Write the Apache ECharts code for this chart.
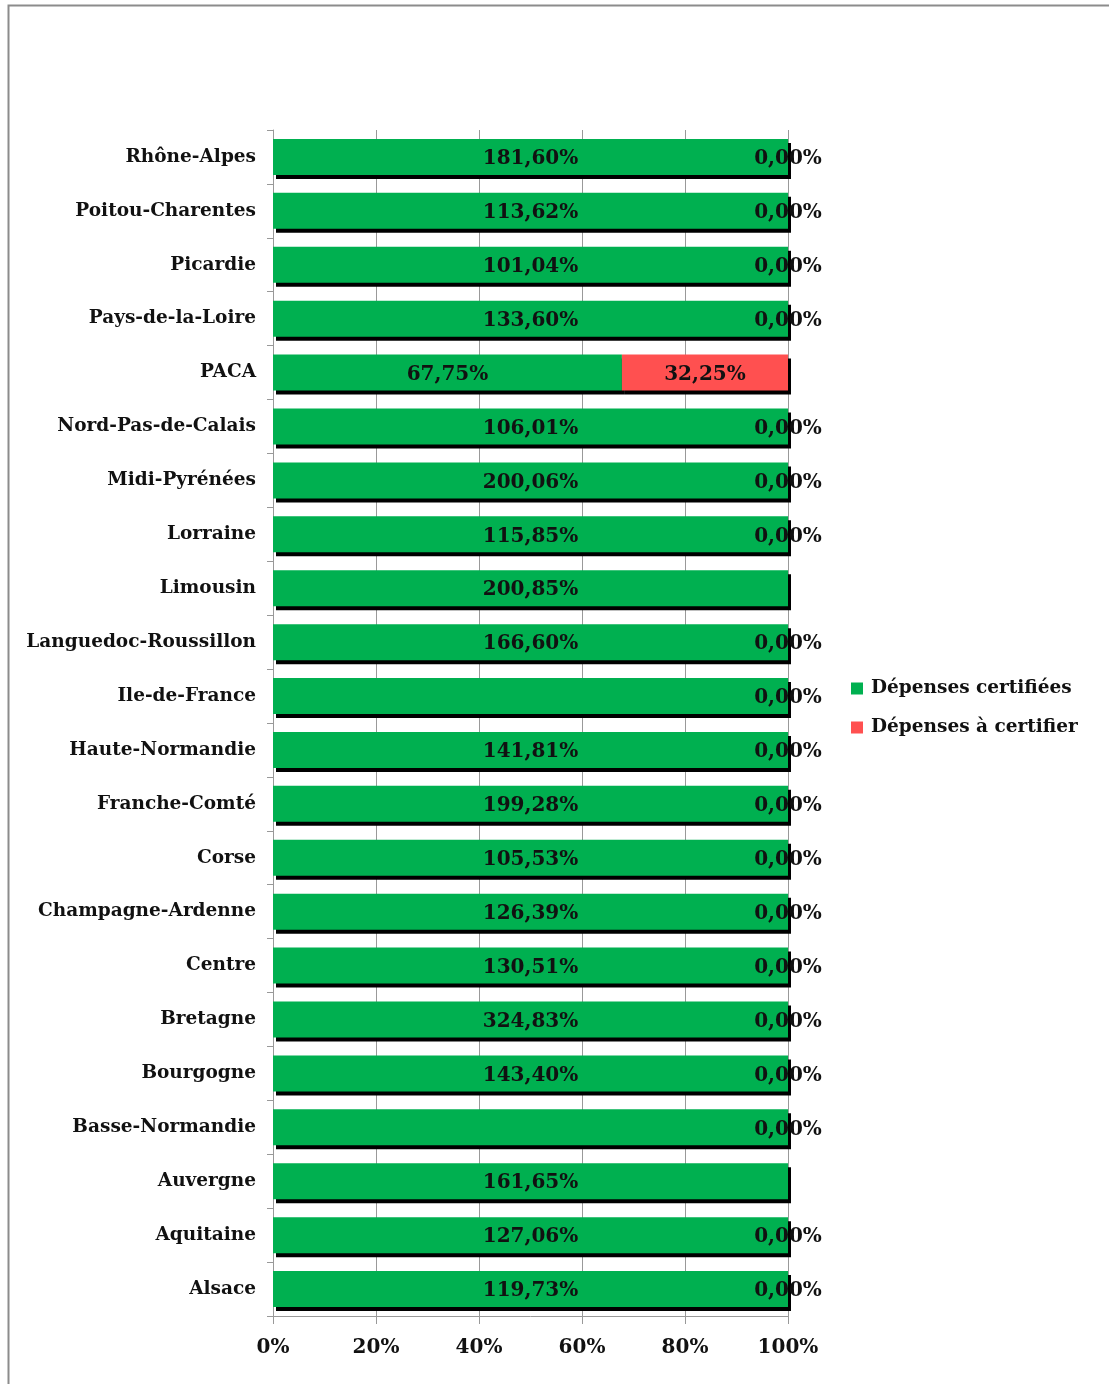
<!DOCTYPE html>
<html>
<head>
<meta charset="utf-8">
<script src="https://cdn.jsdelivr.net/npm/echarts@6/dist/echarts.min.js"></script>
<style>
html,body{margin:0;padding:0;background:#fff;}
#chart{width:1109px;height:1384px;}
</style>
</head>
<body>
<div id="chart"></div>
<script>
// categories listed bottom -> top (ECharts category y axis starts at the bottom)
var regions = ['Alsace','Aquitaine','Auvergne','Basse-Normandie','Bourgogne','Bretagne','Centre',
  'Champagne-Ardenne','Corse','Franche-Comté','Haute-Normandie','Ile-de-France',
  'Languedoc-Roussillon','Limousin','Lorraine','Midi-Pyrénées','Nord-Pas-de-Calais','PACA',
  'Pays-de-la-Loire','Picardie','Poitou-Charentes','Rhône-Alpes'];

// shown percentages (label text); null = no label
var certLabels = [119.73,127.06,161.65,null,143.40,324.83,130.51,126.39,105.53,199.28,141.81,null,
  166.60,200.85,115.85,200.06,106.01,67.75,133.60,101.04,113.62,181.60];
var toCertLabels = [0,0,null,0,0,0,0,0,0,0,0,0,0,null,0,0,0,32.25,0,0,0,0];

// share of each bar (100% stacked)
var certShare = [100,100,100,100,100,100,100,100,100,100,100,100,100,100,100,100,100,67.75,100,100,100,100];
var toCertShare = [0,0,null,0,0,0,0,0,0,0,0,0,0,null,0,0,0,32.25,0,0,0,0];

var xTicks = ['0%','20%','40%','60%','80%','100%'];

var fontFam = '"DejaVu Serif", serif';
function fmt(v){ return v.toFixed(2).replace('.', ',') + '%'; }

var chart = echarts.init(document.getElementById('chart'));
var shadow = {shadowColor:'#000', shadowBlur:0, shadowOffsetX:3, shadowOffsetY:4};

chart.setOption({
  animation:false,
  graphic:[{
    type:'rect', shape:{x:8.5, y:5.5, width:1120, height:1400},
    style:{fill:null, stroke:'#8c8c8c', lineWidth:2}, silent:true
  }],
  grid:{left:273, right:321, top:130, bottom:68},
  legend:{
    orient:'vertical', left:846, top:674, itemGap:20,
    itemWidth:12, itemHeight:12, icon:'rect',
    textStyle:{fontFamily:fontFam, fontWeight:'bold', fontSize:18.5, color:'#111', padding:[0,0,0,3]},
    data:['Dépenses certifiées','Dépenses à certifier']
  },
  xAxis:{
    type:'value', min:0, max:100, interval:20,
    axisLine:{show:true, lineStyle:{color:'#999'}},
    axisTick:{show:true, length:8, lineStyle:{color:'#999'}},
    splitLine:{show:true, lineStyle:{color:'#999', width:1}},
    axisLabel:{margin:22, fontFamily:fontFam, fontWeight:'bold', fontSize:20, color:'#111',
      formatter:function(v){ return xTicks[Math.round(v/20)]; }}
  },
  yAxis:{
    type:'category', data:regions,
    axisLine:{show:true, lineStyle:{color:'#999'}},
    axisTick:{show:true, length:6, lineStyle:{color:'#999'}},
    axisLabel:{margin:17, padding:[3,0,0,0], fontFamily:fontFam, fontWeight:'bold', fontSize:18.5, color:'#111'}
  },
  series:[{
    name:'Dépenses certifiées', type:'bar', stack:'a', barWidth:36,
    data:certShare,
    itemStyle:Object.assign({color:'#00B050'}, shadow),
    label:{show:true, position:'inside', offset:[0,2], fontFamily:fontFam, fontWeight:'bold', fontSize:20, color:'#111',
      formatter:function(p){ var v = certLabels[p.dataIndex]; return v == null ? '' : fmt(v); }}
  },{
    name:'Dépenses à certifier', type:'bar', stack:'a', barWidth:36,
    data:toCertShare,
    itemStyle:Object.assign({color:'#FF5050'}, shadow),
    label:{show:true, position:'inside', offset:[0,2], fontFamily:fontFam, fontWeight:'bold', fontSize:20, color:'#111',
      formatter:function(p){ var v = toCertLabels[p.dataIndex]; return v == null ? '' : fmt(v); }}
  }]
});
</script>
</body>
</html>
